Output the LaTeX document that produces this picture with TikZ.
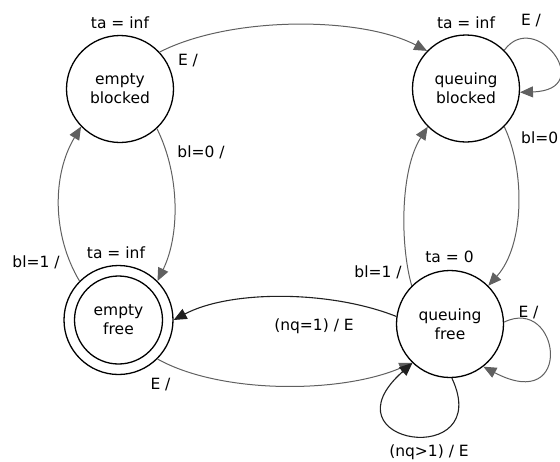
\documentclass[tikz,border=0pt]{standalone}
\usepackage{fontspec}
\setmainfont{DejaVu Sans}
\usetikzlibrary{arrows.meta}
\definecolor{edgegray}{HTML}{606060}
\definecolor{edgeblack}{HTML}{202020}
\begin{document}
\begin{tikzpicture}[x=1pt,y=-1pt,
  every node/.style={font=\fontsize{15.5}{19}\selectfont},
  state/.style={circle,draw=black,line width=1.3pt,minimum size=107pt,inner sep=0pt,align=center},
  lbl/.style={anchor=base,inner sep=0pt},
  grayedge/.style={draw=edgegray,line width=1pt,-{Triangle[length=13pt,width=11pt]},fill=none},
  blackedge/.style={draw=edgeblack,line width=1.1pt,-{Triangle[length=13pt,width=11pt]}},
]
\useasboundingbox (0,0) rectangle (560,461);

\node[state] (eb) at (120,89) {empty\\blocked};
\node[state] (qb) at (466,88.5) {queuing\\blocked};
\node[state,minimum size=109pt] (ef) at (118.5,320) {empty\\free};
\node[state] (qf) at (450,324) {queuing\\free};
\draw[line width=1.3pt] (ef.center) circle[radius=44];

% state labels
\node[lbl] (l1) at (120,28) {ta = inf};
\node[lbl] (l2) at (466,28) {ta = inf};
\node[lbl] (l3) at (116,258) {ta = inf};
\node[lbl] (l4) at (449.5,262) {ta = 0};

% edges
\draw[grayedge] (eb.43) .. controls (230,16) and (360,16) .. (qb.136);
\draw[grayedge] (qb.45) .. controls (535,8) and (598,90) .. (qb.-4);
\draw[grayedge] (qb.-45) .. controls (525,170) and (525,245) .. (qf.45);
\draw[grayedge] (qf.135) .. controls (400,245) and (400,170) .. (qb.225);
\draw[grayedge] (eb.-47) .. controls (180,175) and (180,235) .. (ef.45);
\draw[grayedge] (ef.135) .. controls (52,235) and (52,175) .. (eb.224);
\draw[grayedge] (ef.-45) .. controls (220,394) and (340,394) .. (qf.226);
\draw[grayedge] (qf.2) .. controls (560,295) and (575,415) .. (qf.-52);
\draw[blackedge] (qf.172) .. controls (330,290) and (230,290) .. (ef.0);
\draw[blackedge] (qf.-88) .. controls (495,470) and (320,445) .. (qf.226);

% edge labels
\node[lbl] (e1) at (188,65) {E /};
\node[lbl] (e2) at (201,157) {bl=0 /};
\node[lbl] (e3) at (531,25) {E /};
\node[lbl,anchor=base west] (e4) at (521,143) {bl=0};
\node[lbl] (e5) at (36,267) {bl=1 /};
\node[lbl] (e6) at (160.5,389) {E /};
\node[lbl] (e7) at (314,330) {(nq=1) / E};
\node[lbl] (e8) at (378,277) {bl=1 /};
\node[lbl] (e9) at (528.5,317) {E /};
\node[lbl] (e10) at (429,456.5) {(nq>1) / E};
\end{tikzpicture}
\end{document}
